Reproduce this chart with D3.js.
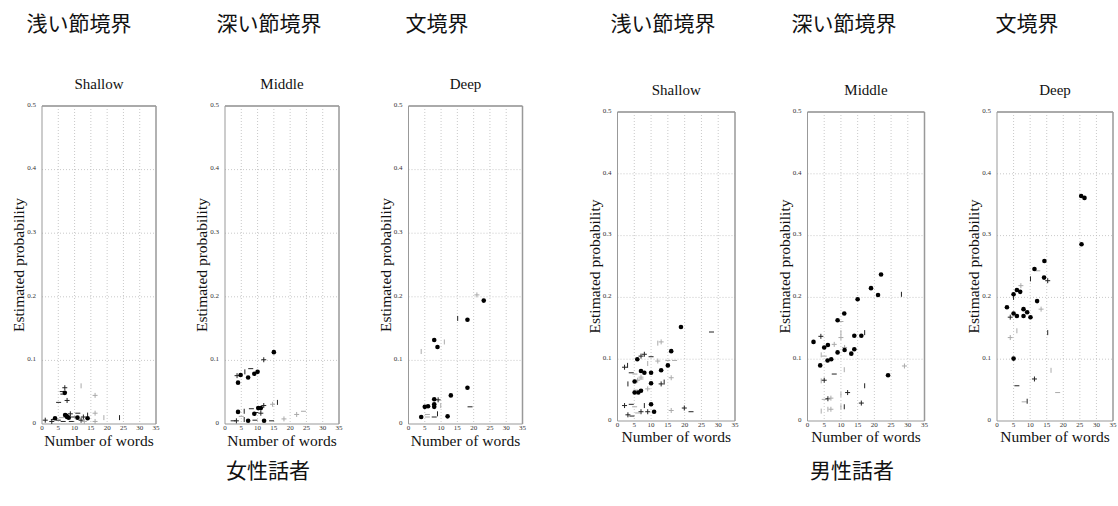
<!DOCTYPE html>
<html>
<head>
<meta charset="utf-8">
<script src="https://cdn.jsdelivr.net/npm/d3@7"></script>
<style>
    body { margin: 0; background: #fff; }
    text { font-family: "Liberation Serif", "Times New Roman", serif; }
    .jp { font-family: "Noto Sans CJK JP", sans-serif; }
</style>
</head>
<body>
<svg id="chart" width="1118" height="506"></svg>
<script>
// Axis ticks
const xTicks = [0, 5, 10, 15, 20, 25, 30, 35];
const yTicks = [0, 0.1, 0.2, 0.3, 0.4, 0.5];
const yTickLabels = ['0', '0.1', '0.2', '0.3', '0.4', '0.5'];

const panelTitles = ['Shallow', 'Middle', 'Deep'];
const boundaryLabels = ['浅い節境界', '深い節境界', '文境界'];
const speakerLabels = ['女性話者', '男性話者'];

// Points: [words, probability]; marks: [words, probability, symbol, group]
const femaleShallowDots = [[7, 0.049], [4, 0.009], [7.1, 0.014], [7.7, 0.011], [8.2, 0.01], [10.9, 0.01], [14, 0.009], [7.5, 0.013]];
const femaleShallowMarks = [
    [7, 0.057, '+', 1], [6.2, 0.051, '-', 1], [6.4, 0.047, '-', 1], [5.1, 0.034, '-', 1], [7.7, 0.037, '+', 1],
    [12, 0.06, '|', 2], [16.3, 0.045, '+', 2], [1, 0.006, '+', 1], [19, 0.01, '|', 2], [23.8, 0.01, '|', 1],
    [16.3, 0.017, '+', 2], [16.3, 0.004, '+', 2], [11, 0.017, '-', 1], [12, 0.006, '+', 1], [3, 0.004, '+', 1],
    [5, 0.006, '-', 1], [6.5, 0.004, '-', 1], [9, 0.004, '-', 1], [12.7, 0.011, '+', 1], [14, 0.014, '|', 1],
    [9.7, 0.011, '-', 1], [8.7, 0.016, '+', 1], [3.5, 0.007, '-', 1], [6, 0.01, '-', 2], [13, 0.004, '+', 2]
];

const femaleMiddleDots = [[15, 0.113], [4, 0.065], [4.8, 0.077], [7.1, 0.073], [9, 0.079], [10, 0.082], [4, 0.019], [9, 0.016], [10.2, 0.025], [11, 0.025], [7.1, 0.005], [12, 0.005]];
const femaleMiddleMarks = [
    [11.9, 0.101, '+', 1], [7.9, 0.087, '-', 1], [6.1, 0.082, '|', 1], [3.7, 0.076, '+', 1], [16.1, 0.034, '|', 1],
    [14.6, 0.031, '+', 2], [11.9, 0.029, '+', 1], [8.1, 0.024, '-', 1], [5.9, 0.02, '|', 1], [11, 0.017, '+', 1],
    [9.5, 0.018, '-', 1], [3.5, 0.005, '+', 1], [5, 0.012, '-', 2], [14.3, 0.005, '-', 1], [18.1, 0.008, '+', 2],
    [22, 0.015, '+', 2], [24.1, 0.02, '-', 2], [5.9, 0.007, '|', 1], [9.2, 0.006, '-', 1], [2.5, 0.005, '-', 1]
];

const femaleDeepDots = [[23.1, 0.194], [18.1, 0.164], [7.9, 0.132], [8.9, 0.121], [13, 0.045], [18.1, 0.057], [7.9, 0.039], [7.9, 0.031], [7.9, 0.027], [5, 0.027], [6, 0.028], [3.9, 0.011], [12, 0.012]];
const femaleDeepMarks = [
    [21, 0.203, '+', 2], [15.1, 0.166, '|', 1], [11, 0.129, '|', 2], [3.9, 0.114, '|', 2], [9.1, 0.038, '+', 1],
    [9.9, 0.029, '|', 2], [18.9, 0.027, '-', 1], [5.8, 0.015, '-', 2], [5.8, 0.011, '-', 2], [7.9, 0.011, '-', 1],
    [8.9, 0.016, '|', 1]
];

const maleShallowDots = [[18.9, 0.152], [16, 0.113], [5.9, 0.1], [15, 0.09], [13, 0.082], [7, 0.081], [8, 0.078], [10, 0.078], [5.1, 0.064], [10, 0.061], [7, 0.049], [5.1, 0.046], [6.2, 0.046], [10, 0.027], [10.9, 0.015]];
const maleShallowMarks = [
    [28, 0.144, '-', 1], [13, 0.128, '+', 2], [12, 0.126, '|', 2], [8, 0.108, '+', 1], [7, 0.105, '+', 1],
    [10, 0.104, '-', 1], [2.1, 0.087, '+', 1], [3, 0.09, '|', 1], [15, 0.098, '-', 2], [12, 0.097, '+', 2],
    [17, 0.098, '-', 2], [9, 0.093, '|', 2], [4.1, 0.078, '-', 1], [5.2, 0.076, '-', 2], [7, 0.071, '+', 2],
    [16, 0.07, '+', 2], [3.1, 0.06, '|', 1], [13, 0.06, '+', 1], [13.9, 0.063, '|', 1], [9, 0.052, '+', 2],
    [6, 0.066, '+', 2], [7, 0.068, '-', 2], [5.5, 0.05, '-', 2], [2.1, 0.025, '+', 1], [4.1, 0.027, '-', 1],
    [5.1, 0.023, '-', 2], [8, 0.025, '|', 1], [3.1, 0.01, '+', 1], [4.3, 0.008, '-', 1], [7, 0.015, '+', 1],
    [9, 0.015, '+', 1], [16, 0.017, '+', 2], [19.9, 0.021, '+', 1], [21.9, 0.015, '-', 1], [6, 0.013, '-', 2]
];

const maleMiddleDots = [[22, 0.237], [19, 0.215], [21.1, 0.204], [15, 0.197], [11, 0.174], [9, 0.163], [14, 0.138], [16.1, 0.138], [14, 0.116], [11.1, 0.115], [13.1, 0.109], [1.8, 0.128], [6.1, 0.123], [5, 0.119], [9, 0.111], [7.1, 0.1], [6, 0.098], [3.8, 0.09], [24.1, 0.074]];
const maleMiddleMarks = [
    [28.1, 0.205, '|', 1], [10, 0.161, '-', 2], [17.1, 0.143, '|', 1], [10, 0.143, '|', 2], [10, 0.135, '+', 2],
    [4, 0.137, '+', 1], [8, 0.124, '+', 2], [11.1, 0.119, '+', 2], [4.1, 0.107, '|', 2], [5, 0.105, '-', 2],
    [11, 0.083, '|', 2], [29, 0.089, '+', 2], [8, 0.076, '-', 1], [4.1, 0.065, '|', 2], [5, 0.066, '+', 1],
    [17.1, 0.057, '|', 1], [12, 0.046, '+', 1], [10, 0.043, '|', 2], [5, 0.035, '-', 2], [6.1, 0.036, '+', 1],
    [7, 0.037, '+', 2], [16.1, 0.029, '+', 1], [4.1, 0.016, '|', 2], [6.1, 0.019, '|', 2], [7, 0.019, '+', 2],
    [10, 0.023, '|', 2], [11, 0.023, '|', 1]
];

const maleDeepDots = [[25.4, 0.364], [26.4, 0.361], [25.5, 0.286], [11.3, 0.246], [14.3, 0.259], [14.2, 0.232], [12.1, 0.194], [6, 0.212], [7, 0.209], [5, 0.205], [3, 0.184], [5, 0.174], [6, 0.17], [8, 0.181], [9.1, 0.176], [8, 0.17], [10.1, 0.168], [5, 0.101]];
const maleDeepMarks = [
    [12.3, 0.243, '-', 2], [15.3, 0.227, '+', 1], [10.1, 0.23, '|', 1], [7.2, 0.219, '+', 2], [4, 0.168, '+', 1],
    [13.3, 0.181, '+', 2], [4, 0.135, '+', 2], [6, 0.146, '|', 2], [15.3, 0.143, '|', 1], [16.3, 0.082, '|', 2],
    [11.3, 0.068, '+', 1], [6, 0.057, '-', 1], [8.2, 0.031, '-', 2], [9.1, 0.032, '|', 1], [18.3, 0.046, '-', 2],
    [5, 0.2, '|', 1]
];

// Panel boxes (pixels)
const panels = [
    { left: 42, right: 156, top: 106, bottom: 424, title: 0, dots: femaleShallowDots, marks: femaleShallowMarks, titleY: 89, xLabelY: 446 },
    { left: 225, right: 339, top: 106, bottom: 424, title: 1, dots: femaleMiddleDots, marks: femaleMiddleMarks, titleY: 89, xLabelY: 446 },
    { left: 408.5, right: 522.5, top: 106, bottom: 424, title: 2, dots: femaleDeepDots, marks: femaleDeepMarks, titleY: 89, xLabelY: 446 },
    { left: 617.5, right: 735, top: 112, bottom: 421, title: 0, dots: maleShallowDots, marks: maleShallowMarks, titleY: 95, xLabelY: 442 },
    { left: 807.5, right: 924.5, top: 112, bottom: 421, title: 1, dots: maleMiddleDots, marks: maleMiddleMarks, titleY: 95, xLabelY: 442 },
    { left: 997, right: 1113, top: 112, bottom: 421, title: 2, dots: maleDeepDots, marks: maleDeepMarks, titleY: 95, xLabelY: 442 }
];

const boundaryX = [79, 269, 437, 663, 844, 1027];
const speakerX = [268, 852];

const svg = d3.select('#chart');

const symbolPath = {
    '+': 'M-2.5,0H2.5M0,-2.5V2.5',
    '-': 'M-2.5,0H2.5',
    '|': 'M0,-2.5V2.5'
};
const markColor = { 1: '#222', 2: '#aaa' };

panels.forEach((p) => {
    const x = d3.scaleLinear().domain([0, 35]).range([p.left, p.right]);
    const y = d3.scaleLinear().domain([0, 0.5]).range([p.bottom, p.top]);
    const g = svg.append('g');

    // Grid
    g.selectAll('.vgrid')
        .data(xTicks.slice(1, -1))
        .enter()
        .append('line')
        .attr('x1', d => x(d)).attr('x2', d => x(d))
        .attr('y1', p.top).attr('y2', p.bottom)
        .attr('stroke', '#bbb')
        .attr('stroke-width', 0.8)
        .attr('stroke-dasharray', '1,2');

    g.selectAll('.hgrid')
        .data(yTicks.slice(1, -1))
        .enter()
        .append('line')
        .attr('x1', p.left).attr('x2', p.right)
        .attr('y1', d => y(d)).attr('y2', d => y(d))
        .attr('stroke', '#bbb')
        .attr('stroke-width', 0.8)
        .attr('stroke-dasharray', '1,2');

    // Frame
    g.append('line')
        .attr('x1', p.left).attr('x2', p.right)
        .attr('y1', p.top).attr('y2', p.top)
        .attr('stroke', '#aaa').attr('stroke-width', 2);
    g.append('line')
        .attr('x1', p.right).attr('x2', p.right)
        .attr('y1', p.top).attr('y2', p.bottom)
        .attr('stroke', '#999').attr('stroke-width', 1.5);
    g.append('line')
        .attr('x1', p.left).attr('x2', p.left)
        .attr('y1', p.top).attr('y2', p.bottom)
        .attr('stroke', '#999').attr('stroke-width', 1);
    g.append('line')
        .attr('x1', p.left).attr('x2', p.right)
        .attr('y1', p.bottom).attr('y2', p.bottom)
        .attr('stroke', '#999').attr('stroke-width', 1);

    // Tick labels
    g.selectAll('.ytick')
        .data(yTicks)
        .enter()
        .append('text')
        .attr('x', p.left - 6)
        .attr('y', d => y(d))
        .attr('dy', (d, i) => i === 0 ? '0.15em' : '0.1em')
        .attr('text-anchor', 'end')
        .style('font-size', '7px')
        .style('fill', '#333')
        .text((d, i) => yTickLabels[i]);

    g.selectAll('.xtick')
        .data(xTicks)
        .enter()
        .append('text')
        .attr('x', d => x(d))
        .attr('y', p.bottom + 6)
        .attr('text-anchor', 'middle')
        .style('font-size', '7px')
        .style('fill', '#333')
        .text(d => d);

    // Axis titles
    g.append('text')
        .attr('x', (p.left + p.right) / 2)
        .attr('y', p.xLabelY)
        .attr('text-anchor', 'middle')
        .style('font-size', '15.5px')
        .style('fill', '#111')
        .text('Number of words');

    g.append('text')
        .attr('transform', `translate(${p.left - 18}, ${(p.top + p.bottom) / 2}) rotate(-90)`)
        .attr('text-anchor', 'middle')
        .style('font-size', '15.5px')
        .style('fill', '#111')
        .text('Estimated probability');

    g.append('text')
        .attr('x', (p.left + p.right) / 2)
        .attr('y', p.titleY)
        .attr('text-anchor', 'middle')
        .style('font-size', '15px')
        .style('fill', '#111')
        .text(panelTitles[p.title]);

    // Marks
    g.selectAll('.mark')
        .data(p.marks)
        .enter()
        .append('path')
        .attr('d', d => symbolPath[d[2]])
        .attr('transform', d => `translate(${x(d[0])}, ${y(d[1])})`)
        .attr('stroke', d => markColor[d[3]])
        .attr('stroke-width', 1)
        .attr('fill', 'none');

    g.selectAll('.dot')
        .data(p.dots)
        .enter()
        .append('circle')
        .attr('cx', d => x(d[0]))
        .attr('cy', d => y(d[1]))
        .attr('r', 2.3)
        .attr('fill', '#000');
});

// Annotations
svg.selectAll('.boundary')
    .data(boundaryX)
    .enter()
    .append('text')
    .attr('class', 'jp')
    .attr('x', d => d)
    .attr('y', 31)
    .attr('text-anchor', 'middle')
    .style('font-size', '21px')
    .style('fill', '#111')
    .text((d, i) => boundaryLabels[i % 3]);

svg.selectAll('.speaker')
    .data(speakerX)
    .enter()
    .append('text')
    .attr('class', 'jp')
    .attr('x', d => d)
    .attr('y', 478)
    .attr('text-anchor', 'middle')
    .style('font-size', '21px')
    .style('fill', '#111')
    .text((d, i) => speakerLabels[i]);
</script>
</body>
</html>
